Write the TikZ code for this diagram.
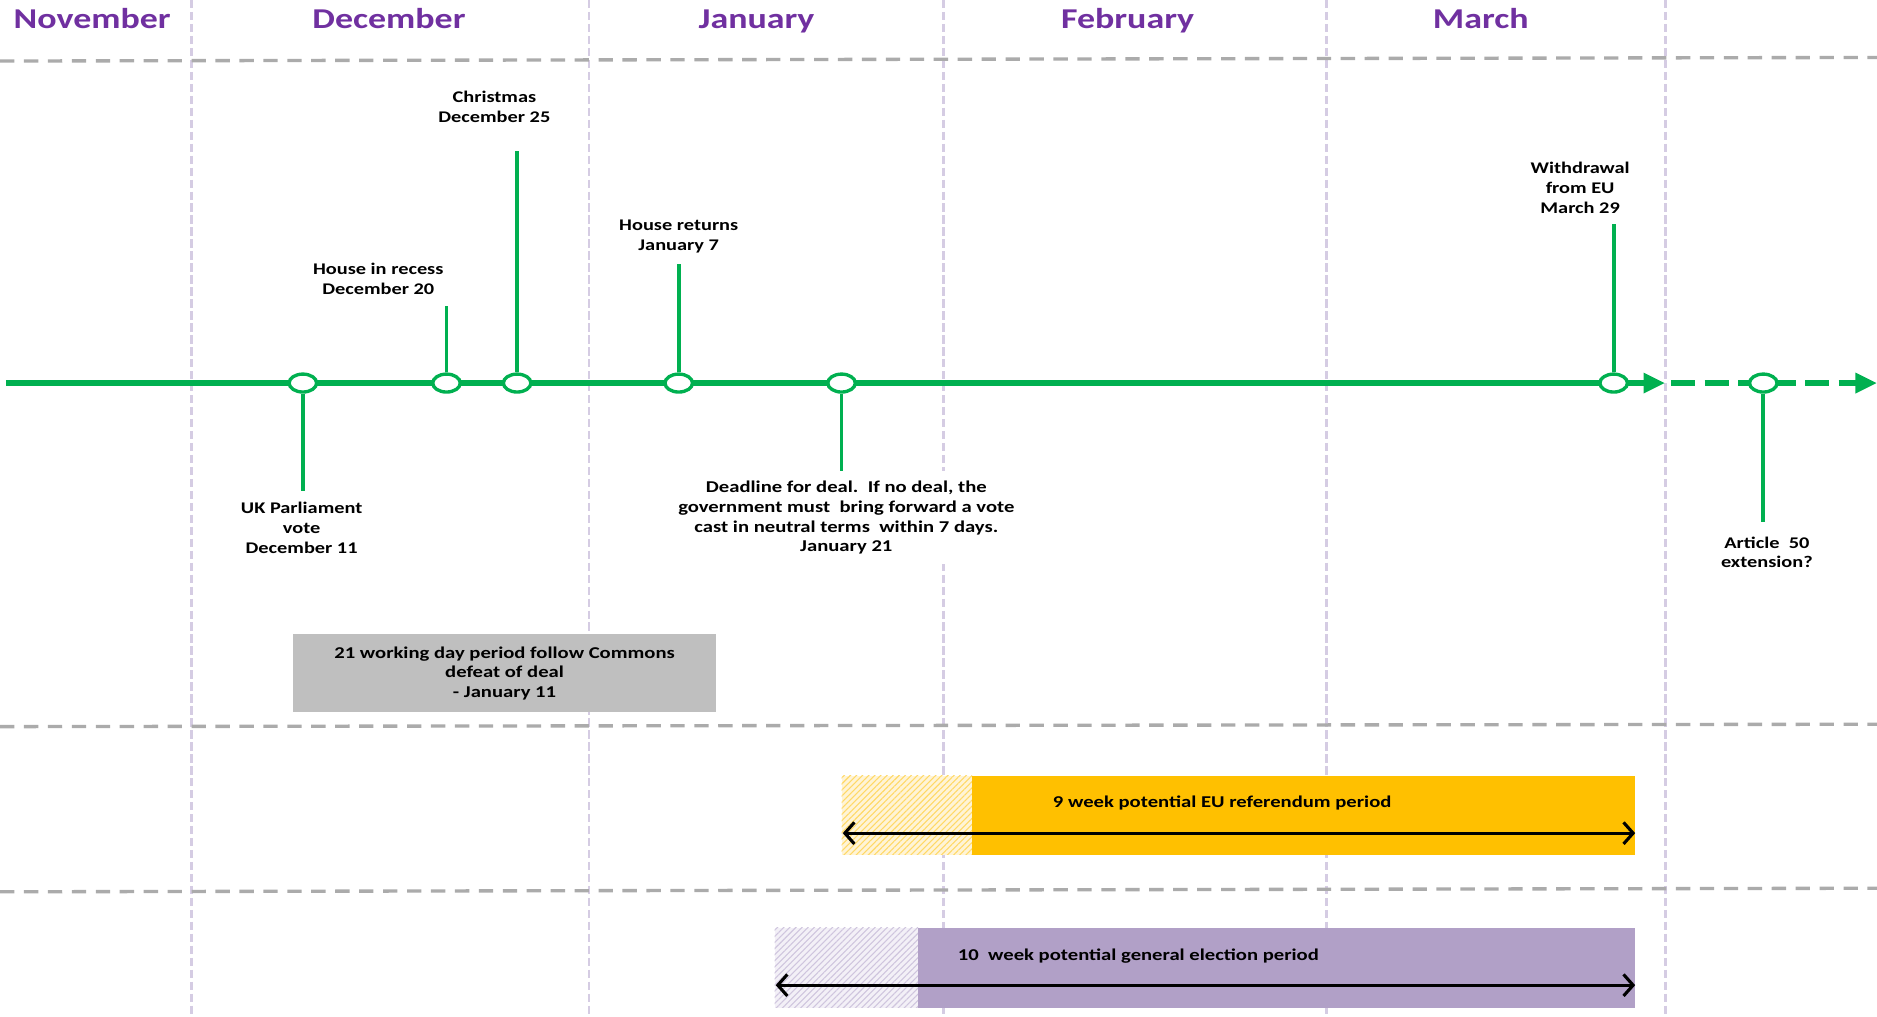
\documentclass[tikz,border=0pt]{standalone}
\usepackage{fontspec}
\setmainfont{Carlito}[FakeStretch=1.25]
\usetikzlibrary{arrows.meta,shapes.geometric,patterns.meta}
\definecolor{tlgreen}{HTML}{00B050}
\definecolor{monthpurple}{HTML}{7030A0}
\definecolor{gridlav}{HTML}{D5CCE3}
\definecolor{gridgray}{HTML}{ABABAB}
\definecolor{boxgray}{HTML}{BFBFBF}
\definecolor{euorange}{HTML}{FFC000}
\definecolor{eupale}{HTML}{FFF4D6}
\definecolor{euhatch}{HTML}{FFD966}
\definecolor{gepurple}{HTML}{B1A0C7}
\definecolor{gepale}{HTML}{F3F0F7}
\definecolor{gehatch}{HTML}{CFC5DE}
\begin{document}
\begin{tikzpicture}[x=0.5pt,y=-0.5pt,
  month/.style={text=monthpurple,font=\fontsize{12}{14}\selectfont\bfseries,inner sep=0pt},
  vgrid/.style={gridlav,line width=1.2pt,dash pattern=on 3.5pt off 1.5pt},
  hgrid/.style={gridgray,line width=1.4pt,dash pattern=on 6pt off 4pt},
  dot/.style={ellipse,draw=tlgreen,line width=1.4pt,fill=white,minimum width=11.5pt,minimum height=7.5pt,inner sep=0pt},
  stem/.style={tlgreen,line width=1.6pt},
  tline/.style={tlgreen,line width=2.3pt},
  lbl/.style={align=center,font=\fontsize{6.8}{8.25}\selectfont\bfseries,inner sep=2pt},
  boxlbl/.style={align=center,font=\fontsize{6.9}{8.25}\selectfont\bfseries,inner sep=2pt},
  bartext/.style={font=\fontsize{6.9}{8.25}\selectfont\bfseries,inner sep=0pt},
  dbl/.style={line width=1.3pt,arrows={Straight Barb[length=4pt,width=9pt]-Straight Barb[length=4pt,width=9pt]}}
]
\useasboundingbox (0,0) rectangle (1568,849);
% grid
\foreach \x in {160,492,788,1108,1391} \draw[vgrid] (\x,0) -- (\x,849);
\draw[hgrid] (0,51) -- (1568,48);
\draw[hgrid] (0,607) -- (1568,605);
\draw[hgrid] (0,745) -- (1568,742);
% months
\node[month,anchor=base] (nov) at (77,24) {November};
\node[month,anchor=base] (dec) at (325,24) {December};
\node[month,anchor=base] (jan) at (632,24) {January};
\node[month,anchor=base] (feb) at (942,24) {February};
\node[month,anchor=base] (mar) at (1237,24) {March};
% timeline
\coordinate (tl0) at (5,320);
\coordinate (tl1) at (1391,320);
\coordinate (tl2) at (1396,320);
\coordinate (tl3) at (1568,320);
\draw[tline,-{Triangle[length=9pt,width=8pt]}] (tl0) -- (tl1);
\draw[tline,dash pattern=on 10pt off 4pt,-{Triangle[length=9pt,width=8pt]}] (tl2) -- (tl3);
% dots
\node[dot] (d1) at (253,320) {};
\node[dot] (d2) at (373,320) {};
\node[dot] (d3) at (432,320) {};
\node[dot] (d4) at (567,320) {};
\node[dot] (d5) at (703,320) {};
\node[dot] (d6) at (1348,320) {};
\node[dot] (d7) at (1473,320) {};
% labels
\node[lbl] (uk) at (252,441) {UK Parliament\\vote\\December 11};
\node[lbl] (rec) at (316,233) {House in recess\\December 20};
\node[lbl] (xmas) at (413,89) {Christmas\\December 25};
\node[lbl] (ret) at (567,197.5) {House returns\\January 7};
\node[boxlbl,fill=white,inner sep=4pt] (dl) at (707,432.5) {Deadline for deal.\ \ If no deal, the\\government must\ \ bring forward a vote\\cast in neutral terms\ \ within 7 days.\\January 21};
\node[lbl] (wd) at (1320,157) {Withdrawal\\from EU\\March 29};
\node[lbl] (a50) at (1476,461.5) {Article\ \ 50\\extension?};
% stems
\draw[stem,shorten >=2.5pt] (d1.south) -- (d1.south |- uk.north);
\draw[stem,shorten >=2.5pt] (d2.north) -- (d2.north |- rec.south);
\draw[stem,shorten >=10pt] (d3.north) -- (d3.north |- xmas.south);
\draw[stem,shorten >=2.5pt] (d4.north) -- (d4.north |- ret.south);
\draw[stem] (d5.south) -- (d5.south |- dl.north);
\draw[stem,shorten >=2pt] (d6.north) -- (d6.north |- wd.south);
\draw[stem,shorten >=4pt] (d7.south) -- (d7.south |- a50.north);
% grey box
\node[boxlbl,fill=boxgray,minimum width=176.5pt,minimum height=32.5pt,inner sep=0pt] (gbox) at (421.5,562.5) {21 working day period follow Commons\\defeat of deal\\- January 11};
% EU referendum bar
\fill[eupale] (703,648) rectangle (812,714);
\fill[pattern={Lines[angle=45,distance=1.8pt,line width=0.45pt]},pattern color=euhatch] (703,648) rectangle (812,714);
\fill[euorange] (812,648) rectangle (1366,714);
\node[bartext] (eut) at (1021,671) {9 week potential EU referendum period};
\coordinate (eul) at (704,696);
\coordinate (eur) at (1366,696);
\draw[dbl] (eul) -- (eur);
% general election bar
\fill[gepale] (647,775) rectangle (767,842);
\fill[pattern={Lines[angle=45,distance=1.8pt,line width=0.45pt]},pattern color=gehatch] (647,775) rectangle (767,842);
\fill[gepurple] (767,775) rectangle (1366,842);
\node[bartext] (get) at (951,799) {10\ \ week potential general election period};
\coordinate (gel) at (648,823);
\coordinate (ger) at (1366,823);
\draw[dbl] (gel) -- (ger);
\end{tikzpicture}
\end{document}
